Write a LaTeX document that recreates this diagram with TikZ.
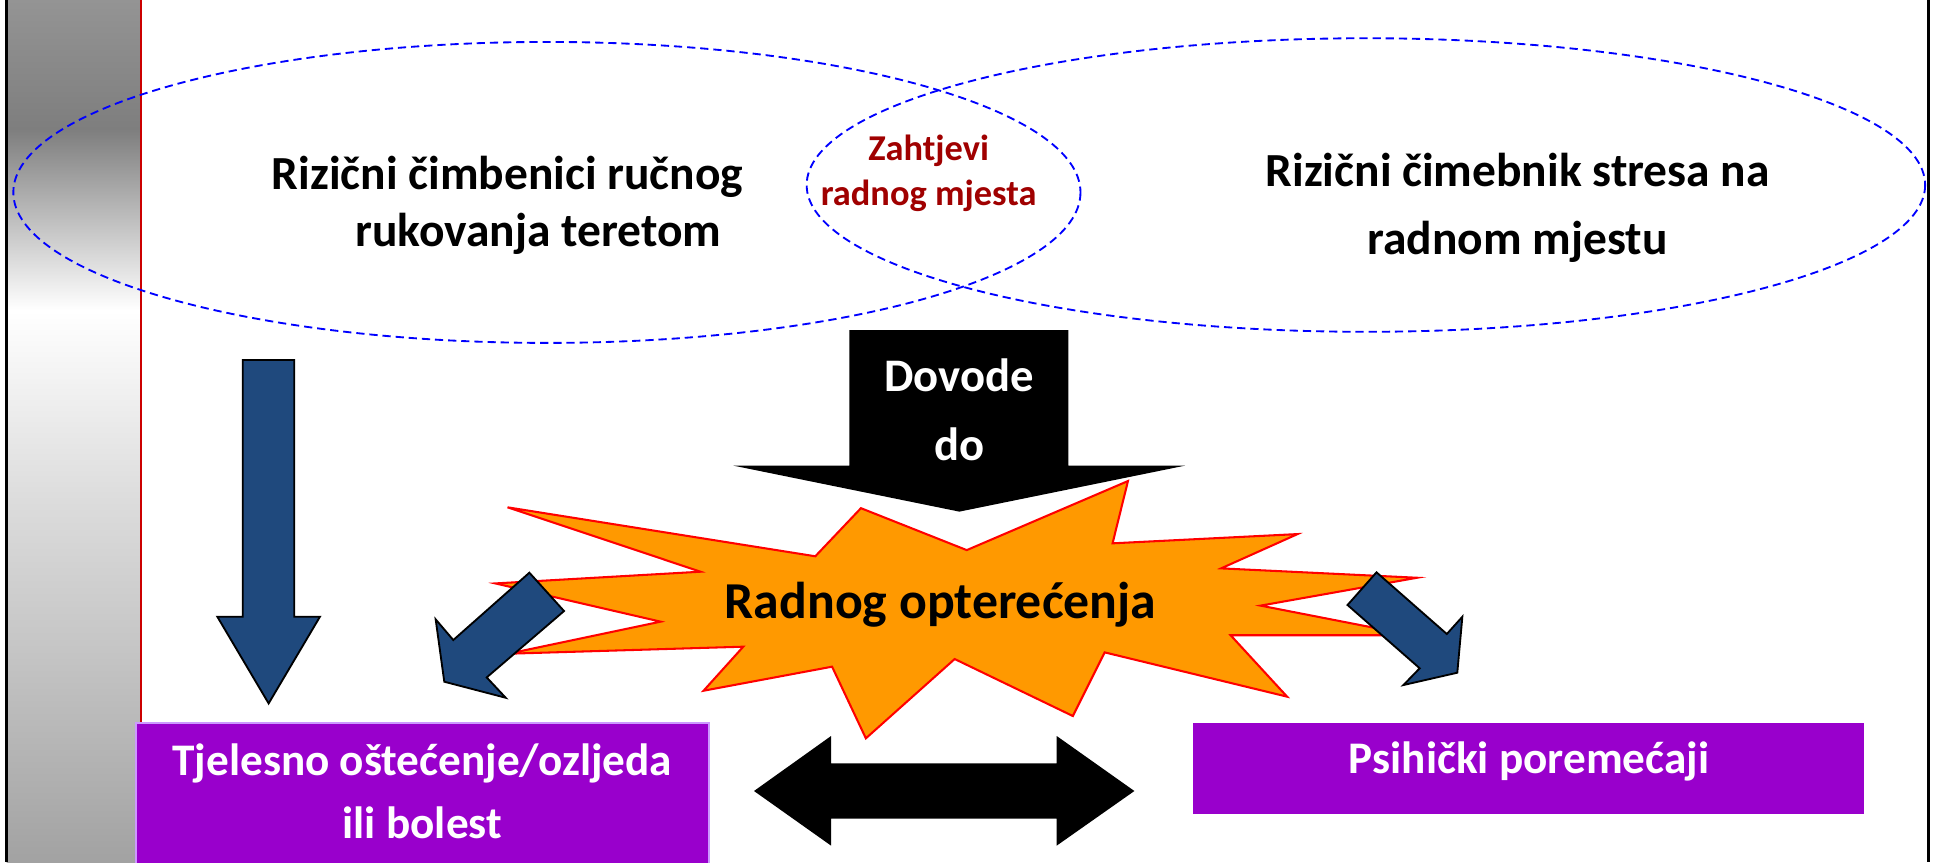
\documentclass[tikz,border=0pt]{standalone}
\usepackage{fontspec}
\setmainfont{Carlito}
\definecolor{barblue}{HTML}{1F497D}
\definecolor{starorange}{HTML}{FF9900}
\definecolor{boxpurple}{HTML}{9900CC}
\definecolor{boxedge}{HTML}{CC99FF}
\definecolor{darkred}{HTML}{A00000}
\definecolor{redline}{HTML}{CC0000}
\definecolor{gA}{HTML}{949494}
\definecolor{gB}{HTML}{7E7E7E}
\definecolor{gC}{HTML}{FFFFFF}
\definecolor{gD}{HTML}{DCDCDC}
\definecolor{gE}{HTML}{C4C4C4}
\definecolor{gF}{HTML}{A2A2A2}
\pgfdeclareverticalshading{sidebar}{100bp}{color(0bp)=(gF); color(25bp)=(gF); color(37bp)=(gE); color(46bp)=(gD); color(57bp)=(gC); color(67.5bp)=(gB); color(75bp)=(gA); color(100bp)=(gA)}
\tikzset{
  venn/.style={draw=blue, dash pattern=on 4pt off 2.4pt, line width=0.9pt},
  bluearrow/.style={fill=barblue, draw=black, line width=0.9pt, line join=miter},
  blackarrow/.style={fill=black},
  burst/.style={fill=starorange, draw=red, line width=1pt, line join=miter},
  purplebox/.style={fill=boxpurple},
  txt/.style={inner sep=0pt, anchor=base, align=center},
}
\begin{document}
\begin{tikzpicture}[x=0.6pt,y=-0.6pt]
\useasboundingbox (0,0) rectangle (1568,699);
\fill[white] (0,0) rectangle (1568,699);
% side bar
\shade[shading=sidebar] (5.4,0) rectangle (114.5,699);
\draw[black, line width=1.4pt] (5.4,0) -- (5.4,699);
\draw[redline, line width=1pt] (114.5,0) -- (114.5,586);
\draw[black, line width=1.4pt] (1563.5,0) -- (1563.5,699);
% venn ellipses
\draw[venn] (443.4,156) ellipse [x radius=432.6, y radius=122];
\draw[venn] (1107.4,150) ellipse [x radius=453.4, y radius=119];
% top texts (base anchor = last line's baseline)
\node[txt, font=\bfseries\fontsize{23.1}{27.6}\selectfont] (riskL) at (411.5,200)
  {Rizični čimbenici ručnog\\\hspace*{1.3em}rukovanja teretom};
\node[txt, font=\bfseries\fontsize{23.1}{33}\selectfont] (riskR) at (1230.5,206)
  {Rizični čimebnik stresa na\\radnom mjestu};
\node[txt, text=darkred, font=\bfseries\fontsize{17.7}{21.6}\selectfont] (demands) at (752.9,166.5)
  {Zahtjevi\\radnog mjesta};
% black down arrow
\fill[blackarrow] (688.6,267.6) -- (866.2,267.6) -- (866.2,377.5) -- (960.8,377.5)
  -- (777.8,414.8) -- (594.6,377.5) -- (688.6,377.5) -- cycle;
\node[txt, text=white, font=\bfseries\fontsize{22.7}{33.6}\selectfont] (lead) at (777.8,373)
  {Dovode\\do};
% starburst
\filldraw[burst] (411.5,411.3) -- (661,451) -- (698,412) -- (783.8,446) -- (914.5,390)
  -- (902,440.5) -- (1052,433) -- (990,460.8) -- (1148.9,468.4) -- (1022,491)
  -- (1145,515) -- (997.7,515) -- (1043.5,564.8) -- (895.6,528.9) -- (869.8,580.5)
  -- (774,534.3) -- (702,598.6) -- (674.6,540.5) -- (570.4,560) -- (602.6,524.3)
  -- (412,530) -- (535.6,504) -- (401.6,473) -- (568,463.5) -- cycle;
\node[txt, font=\bfseries\fontsize{25.2}{30}\selectfont] (load) at (762.5,501.3)
  {Radnog opterećenja};
% blue arrows
\filldraw[bluearrow] (196.8,291.9) -- (238.6,291.9) -- (238.6,500) -- (259.4,500)
  -- (217.8,570.3) -- (176.2,500) -- (196.8,500) -- cycle;
\filldraw[bluearrow] (429.2,464.3) -- (457.3,495.4) -- (394.6,549.2) -- (410,565.7)
  -- (360.2,552.7) -- (353.2,502.1) -- (367.5,518.9) -- cycle;
\filldraw[bluearrow] (1116,464) -- (1173,514) -- (1185.6,500) -- (1181.5,545.4)
  -- (1137.8,555.4) -- (1151,541.8) -- (1092.5,490.5) -- cycle;
% double arrow
\fill[blackarrow] (611.3,641.3) -- (673.8,596.7) -- (673.8,618.9) -- (856.7,618.9)
  -- (856.7,596.7) -- (919.7,641.3) -- (856.7,685.6) -- (856.7,663.7)
  -- (673.8,663.7) -- (673.8,685.6) -- cycle;
% boxes
\filldraw[purplebox, draw=boxedge, line width=1pt] (110.2,586.3) rectangle (574.8,705);
\fill[purplebox] (967.5,586.5) rectangle (1511.6,660);
\node[txt, text=white, font=\bfseries\fontsize{22}{30.6}\selectfont] (body) at (342.4,679.7)
  {Tjelesno oštećenje/ozljeda\\ili bolest};
\node[txt, text=white, font=\bfseries\fontsize{22}{30}\selectfont] (psych) at (1239.7,627)
  {Psihički poremećaji};
\end{tikzpicture}
\end{document}
